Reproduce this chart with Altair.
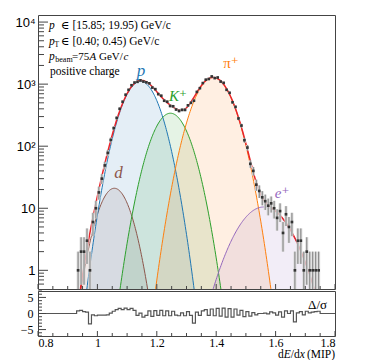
import altair as alt
import numpy as np
import pandas as pd

# ---------------- measured histogram (bin width 0.01 MIP) ----------------
bin_centers = [round(0.935 + 0.01 * i, 3) for i in range(82)]
counts = [1, 2, 2, 3, 1, 6, 10, 18, 30, 49,
          78, 126, 195, 285, 400, 520, 675, 810, 960, 1060,
          1090, 1150, 1100, 1070, 1030, 880, 830, 690, 650, 540,
          520, 445, 440, 390, 370, 385, 385, 455, 500, 540,
          750, 860, 1040, 1180, 1210, 1330, 1250, 1280, 1100, 1050,
          810, 725, 510, 430, 280, 215, 125, 95, 52, 40,
          24, 19, 15, 13, 11, 12, 10, 7, 9, 4,
          8, 5, 6, 1, 3, 3, 1, 2, 1, 1,
          1, 1]
pulls = [0.8, 1.0, 0.6, 0.4, -3.2, -0.4, -0.7, -0.5, -0.5, -0.5,
         -0.4, 0.1, 0.7, 1.2, 1.6, 1.2, 1.7, 1.2, 1.6, 1.0,
         -0.6, 0.1, -1.1, -0.6, 0.8, -0.9, 0.9, -0.6, 1.0, -0.7,
         0.8, -0.7, 0.7, -0.5, -0.7, 0.2, -0.7, 0.6, -0.6, -3.0,
         0.4, -0.6, 0.8, 1.2, -0.6, 1.4, -0.7, 1.6, -0.8, 1.7,
         -1.1, 1.5, -1.1, 1.4, -0.5, 1.0, -1.0, 0.6, -0.8, 0.3,
         -0.4, 0.0, 0.0, 0.1, -0.1, 0.5, 0.2, -0.5, 0.5, -1.1,
         0.8, 0.0, 0.8, -2.6, 0.2, 0.6, -0.4, 0.7, 0.2, 0.4,
         0.6, 0.7]

# ---------------- fitted components ----------------
comp_names = ["d", "p", "K", "pi", "e"]
comp_colors = ["#8c564b", "#1f77b4", "#2ca02c", "#ff7f0e", "#9467bd"]
comp_amplitude = [21, 1110, 340, 1280, 10.5]
comp_mean = [1.057, 1.145, 1.246, 1.39, 1.56]
comp_sigma = [0.041, 0.046, 0.047, 0.049, 0.069]

# ---------------- axis ticks ----------------
x_major = [0.8, 1.0, 1.2, 1.4, 1.6, 1.8]
x_minor = [0.85, 0.9, 0.95, 1.05, 1.1, 1.15, 1.25, 1.3, 1.35, 1.45, 1.5, 1.55, 1.65, 1.7, 1.75]
y_decades = [1, 10, 100, 1000, 10000]
y_minor = [0.6, 0.7, 0.8, 0.9, 2, 3, 4, 5, 6, 7, 8, 9, 20, 30, 40, 50, 60, 70, 80, 90,
           200, 300, 400, 500, 600, 700, 800, 900, 2000, 3000, 4000, 5000, 6000, 7000, 8000, 9000]
pull_major = [-5, 0, 5]
pull_minor = [-7, -6, -4, -3, -2, -1, 1, 2, 3, 4, 6, 7]

# ---------------- build tables ----------------
xg = np.round(np.arange(0.85, 1.8001, 0.002), 4)
rows = []
total = np.zeros_like(xg)
for name, a, m, s in zip(comp_names, comp_amplitude, comp_mean, comp_sigma):
    v = a * np.exp(-0.5 * ((xg - m) / s) ** 2)
    total = total + v
    mask = v > 0.05
    rows.append(pd.DataFrame({"x": xg[mask], "y": v[mask], "comp": name}))
curves = pd.concat(rows, ignore_index=True)
tmask = total > 0.05
tot = pd.DataFrame({"x": xg[tmask], "y": total[tmask]})

data = pd.DataFrame({"x": bin_centers, "n": counts})
edges = [round(c - 0.005, 3) for c in bin_centers]
step = pd.DataFrame({"x": [0.8] + edges + [1.75, 1.8], "r": [0.0] + pulls + [0.0, 0.0]})

one = pd.DataFrame({"k": [0]})

W, H, LH = 297, 274, 45
SERIF = "Liberation Serif, Times New Roman, DejaVu Serif, serif"
SANS = "Liberation Sans, Arial, Helvetica, sans-serif"
FRAME = "#444444"

xs = alt.Scale(domain=[0.8, 1.8], nice=False, zero=False)
ys = alt.Scale(type="log", domain=[0.5, 13000], nice=False)
yaxis = alt.Axis(values=y_decades,
                 labelExpr="datum.value >= 10000 ? '10⁴' : datum.value >= 1000 ? '10³' : datum.value >= 100 ? '10²' : datum.value >= 10 ? '10' : '1'",
                 ticks=False, domain=False, grid=False, title=None,
                 labelFont=SANS, labelFontSize=13, labelColor="black", labelPadding=3)


def X(f):
    return alt.X(f, type="quantitative", scale=xs, axis=None)


def Y(f, **kw):
    return alt.Y(f, type="quantitative", scale=ys, axis=yaxis, **kw)


cscale = alt.Scale(domain=comp_names, range=comp_colors)

areas = alt.Chart(curves).mark_area(opacity=0.12, clip=True).encode(
    x=X("x"), y=Y("y", stack=None), y2=alt.value(H),
    color=alt.Color("comp:N", scale=cscale, legend=None))
lines = alt.Chart(curves).mark_line(strokeWidth=1, clip=True).encode(
    x=X("x"), y=Y("y"), color=alt.Color("comp:N", scale=cscale, legend=None))
tline = alt.Chart(tot).mark_line(color="#e8242a", strokeWidth=1.5, clip=True).encode(x=X("x"), y=Y("y"))

base = alt.Chart(data).transform_calculate(
    lo="max(datum.n - sqrt(datum.n), 0.05)", hi="datum.n + sqrt(datum.n)")
boxes = base.mark_rule(color="#dcdcdc", strokeWidth=3, clip=True).encode(
    x=X("x"), y=Y("lo"), y2=alt.Y2("hi"))
ebars = base.mark_rule(color="#666666", strokeWidth=0.8, clip=True).encode(
    x=X("x"), y=Y("lo"), y2=alt.Y2("hi"))
pts = alt.Chart(data).mark_square(size=7, color="#333333", opacity=1, clip=True).encode(x=X("x"), y=Y("n"))


def plabel(s, xv, yv, color, size, style="italic"):
    return alt.Chart(one).mark_text(text=s, font=SERIF, fontSize=size, fontStyle=style,
                                    color=color, align="center", baseline="middle").encode(
        x=alt.XDatum(xv, type="quantitative", scale=xs, axis=None),
        y=alt.YDatum(yv, type="quantitative", scale=ys, axis=yaxis))


plabels = [
    plabel("p", 1.147, 1620, comp_colors[1], 17),
    plabel("K⁺", 1.271, 640, comp_colors[2], 15),
    plabel("π⁺", 1.45, 2180, comp_colors[3], 15, "normal"),
    plabel("d", 1.071, 36.7, comp_colors[0], 17),
    plabel("e⁺", 1.622, 17.5, comp_colors[4], 15),
]


def txt(s, x, y, size=11.5, style="normal", align="left"):
    return alt.Chart(one).mark_text(text=s, font=SERIF, fontSize=size, fontStyle=style,
                                    color="black", align=align, baseline="middle").encode(
        x=alt.value(x), y=alt.value(y))


legend_txt = [
    txt("p", 11, 11, style="italic"),
    txt("∈ [15.85; 19.95) GeV/c", 23, 11),
    txt("p", 11, 26.5, style="italic"),
    txt("T", 16.5, 29.5, size=7.5),
    txt("∈ [0.40; 0.45) GeV/c", 23, 26.5),
    txt("p", 11, 42, style="italic"),
    txt("beam", 17.3, 44.5, size=8),
    txt("=75", 34, 42, size=11),
    txt("A", 51.5, 42, size=11, style="italic"),
    txt("GeV/", 61, 42, size=11),
    txt("c", 85.5, 42, size=11, style="italic"),
    txt("positive charge", 12, 57),
]


def yticks(vals, length, height_axis=Y):
    return alt.Chart(pd.DataFrame({"t": vals})).mark_rule(color=FRAME, strokeWidth=1).encode(
        y=height_axis("t"), x=alt.value(0), x2=alt.value(length))


def xticks(vals, length, xf, h):
    return alt.Chart(pd.DataFrame({"t": vals})).mark_rule(color=FRAME, strokeWidth=1).encode(
        x=xf("t"), y=alt.value(h), y2=alt.value(h - length))


main = alt.layer(
    areas, lines, tline, boxes, ebars, pts, *plabels, *legend_txt,
    yticks(y_decades, 10), yticks(y_minor, 6),
    xticks(x_major, 5, X, H), xticks(x_minor, 3, X, H),
).properties(width=W, height=H)

# ---------------- lower (pull) panel ----------------
ps = alt.Scale(domain=[-7, 7], nice=False, zero=False)
xaxis_low = alt.Axis(values=x_major,
                     labelExpr="datum.value == 1 ? '1' : format(datum.value, '.1f')",
                     ticks=False, domain=False, grid=False, title=None,
                     labelFont=SERIF, labelFontSize=12, labelColor="black", labelPadding=1)
yaxis_low = alt.Axis(values=pull_major, ticks=False, domain=False, grid=False, title=None,
                     labelFont=SERIF, labelFontSize=12, labelColor="black", labelPadding=5)


def XL(f):
    return alt.X(f, type="quantitative", scale=xs, axis=xaxis_low)


def YL(f):
    return alt.Y(f, type="quantitative", scale=ps, axis=yaxis_low)


stepline = alt.Chart(step).mark_line(interpolate="step-after", color="#555555", strokeWidth=1.2).encode(
    x=XL("x"), y=YL("r"))

tt = LH + 19
lower_txt = [
    txt("Δ/σ", 289, 14, size=13, align="right"),
    txt("d", 240, tt),
    txt("E", 245.8, tt, style="italic"),
    txt("/d", 252.8, tt),
    txt("x", 261.8, tt, style="italic"),
    txt("(MIP)", 297, tt, align="right"),
]

lower = alt.layer(
    stepline, *lower_txt,
    yticks(pull_major, 8, YL), yticks(pull_minor, 4, YL),
    xticks(x_major, 5, XL, LH), xticks(x_minor, 3, XL, LH),
).properties(width=W, height=LH)

chart = alt.vconcat(main, lower, spacing=0).resolve_scale(
    x="independent", y="independent"
).properties(
    padding={"left": 6, "top": 6, "right": 4, "bottom": 0}
).configure_view(stroke=FRAME, strokeWidth=1)

chart.save("out.html", embed_options={"renderer": "svg", "actions": False})
